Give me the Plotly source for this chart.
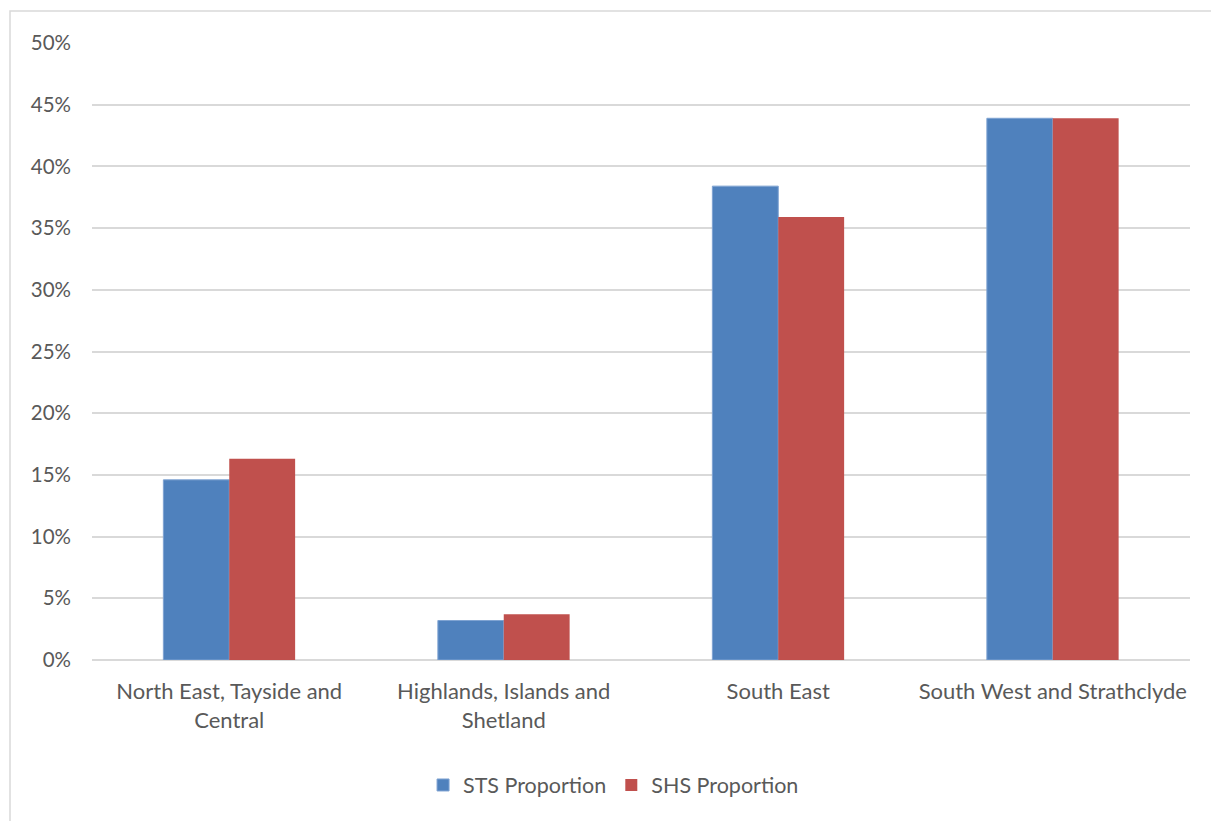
import plotly.graph_objects as go

categories = ["North East, Tayside and<br>Central", "Highlands, Islands and<br>Shetland",
              "South East", "South West and Strathclyde"]
sts = [0.146, 0.032, 0.384, 0.439]
shs = [0.163, 0.037, 0.359, 0.439]
tick_vals = [0, 0.05, 0.10, 0.15, 0.20, 0.25, 0.30, 0.35, 0.40, 0.45, 0.50]
tick_text = ["0%", "5%", "10%", "15%", "20%", "25%", "30%", "35%", "40%", "45%", "50%"]

W, H = 1211, 821
L, R, T, B = 92, 21, 43, 161
pw, ph = W - L - R, H - T - B

fig = go.Figure()
fig.add_trace(go.Bar(name="STS Proportion", x=categories, y=sts,
                     marker=dict(color="#4f81bd", line=dict(color="#7fa3d2", width=1))))
fig.add_trace(go.Bar(name="SHS Proportion", x=categories, y=shs,
                     marker=dict(color="#c0504d", line=dict(width=0))))

font = "Lato"
fig.update_layout(
    width=W, height=H,
    margin=dict(l=L, r=R, t=T, b=B, pad=0),
    paper_bgcolor="white", plot_bgcolor="white",
    barmode="group", bargap=0.52, bargroupgap=0,
    font=dict(family=font, size=22, color="#595959"),
    showlegend=True,
    legend=dict(orientation="h", x=0.475, xanchor="center", y=-0.2026, yanchor="middle",
                font=dict(size=21.5, color="#595959"), itemwidth=30, traceorder="normal"),
    xaxis=dict(showgrid=False, showline=False, ticks="", tickfont=dict(size=22),
               zeroline=False, ticklabelstandoff=16),
    yaxis=dict(range=[0, 0.5], tickvals=tick_vals, ticktext=tick_text,
               showgrid=True, gridcolor="#d9d9d9", gridwidth=1.5,
               zeroline=True, zerolinecolor="#d9d9d9", zerolinewidth=1.5,
               ticks="", tickfont=dict(size=20.5), ticklabelstandoff=20),
    shapes=[dict(type="rect", xref="paper", yref="paper",
                 x0=(10 - L) / pw, x1=2, y0=-1, y1=1 + (T - 11) / ph,
                 line=dict(color="#d9d9d9", width=1.5), fillcolor="rgba(0,0,0,0)", layer="below")],
)
fig.write_html("out.html")
